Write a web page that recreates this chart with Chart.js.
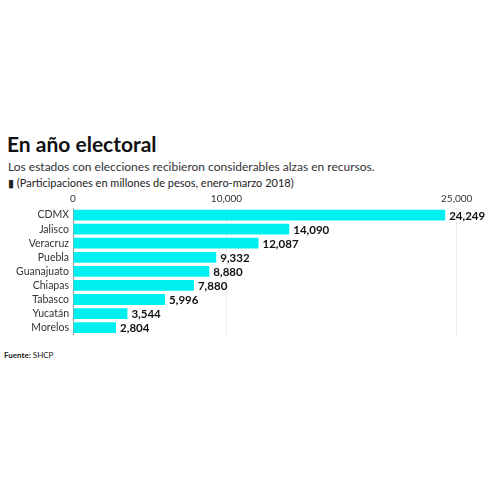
<!DOCTYPE html><html><head><meta charset="utf-8">
<script src="https://cdn.jsdelivr.net/npm/chart.js@4"></script>
<style>
body{margin:0;background:#fff;font-family:Lato,"Open Sans",sans-serif;}
#t{position:absolute;left:7px;top:131px;font-size:21px;font-weight:bold;color:#111;}
#s{position:absolute;left:8px;top:159px;font-size:12px;color:#333;}
#n{position:absolute;left:8px;top:176px;font-size:11px;color:#222;}
#f{position:absolute;left:4px;top:350px;font-size:8px;color:#222;}
#w{position:absolute;left:0;top:190px;width:500px;height:155px;}
</style></head><body>
<div id="t">En año electoral</div>
<div id="s">Los estados con elecciones recibieron considerables alzas en recursos.</div>
<div id="n">&#9646; (Participaciones en millones de pesos, enero-marzo 2018)</div>
<div id="w"><canvas id="c"></canvas></div>
<div id="f"><b>Fuente:</b> SHCP</div>
<script>
const categories=["CDMX","Jalisco","Veracruz","Puebla","Guanajuato","Chiapas","Tabasco","Yucatán","Morelos"];
const values=[24249,14090,12087,9332,8880,7880,5996,3544,2804];
const tickValues=[0,10000,25000];
const labelsPlugin={id:'vl',afterDatasetsDraw(ch){const c=ch.ctx;const m=ch.getDatasetMeta(0);c.save();c.font='bold 11.5px Lato';c.fillStyle='#111';c.textBaseline='middle';
m.data.forEach((b,i)=>{c.fillText(values[i].toLocaleString('en-US'),b.x+4,b.y+1);});c.restore();}};
new Chart(document.getElementById('c'),{type:'bar',data:{labels:categories,datasets:[{data:values,backgroundColor:'#00f0f0',barPercentage:0.85,categoryPercentage:0.9}]},
options:{indexAxis:'y',responsive:true,maintainAspectRatio:false,animation:false,layout:{padding:{right:8,left:4}},
plugins:{legend:{display:false},tooltip:{enabled:false}},
scales:{x:{position:'top',min:0,max:27300,afterBuildTicks:a=>{a.ticks=tickValues.map(v=>({value:v}));},
ticks:{color:'#333',font:{size:10,family:'Lato'},callback:v=>v.toLocaleString('en-US'),maxRotation:0,autoSkip:false},grid:{color:'#eee',drawTicks:false},border:{display:false}},
y:{afterFit:a=>{a.width=69;},ticks:{autoSkip:false,color:'#333',font:{size:10.5,family:'Lato'},padding:4},grid:{color:'#ddd',drawOnChartArea:false,drawTicks:false},border:{color:'#999'}}}},
plugins:[labelsPlugin]});
</script></body></html>
